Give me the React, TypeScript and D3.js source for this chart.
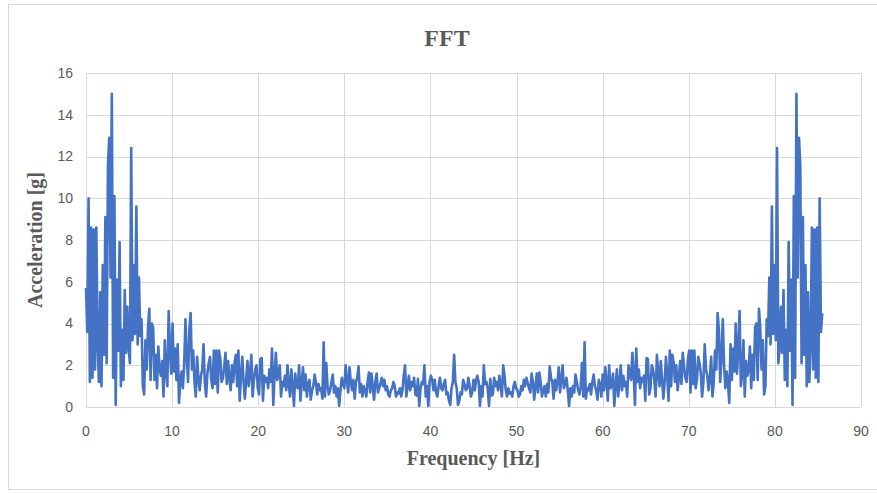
import { useEffect, useRef } from 'react';
import * as d3 from 'd3';

// spectrum sampled every 0.15 Hz, 0 .. 42.75 Hz
const accelLow = [
  5.7, 3.6, 10.0, 1.2, 8.6, 1.4, 8.5, 1.8, 8.6, 3.0,
  1.2, 5.5, 1.0, 6.8, 2.5, 9.1, 2.1, 11.6, 12.9, 6.2,
  15.0, 1.4, 10.1, 0.1, 6.1, 2.7, 7.9, 1.0, 3.7, 1.3,
  5.6, 2.6, 4.8, 2.8, 2.1, 12.4, 3.2, 6.8, 3.5, 9.6,
  3.0, 6.2, 3.4, 4.2, 1.0, 0.6, 3.2, 1.8, 3.8, 4.7,
  1.3, 4.0, 3.8, 1.3, 2.5, 0.9, 2.9, 1.8, 1.5, 2.2,
  0.5, 3.2, 1.6, 1.0, 4.6, 2.8, 1.6, 4.0, 1.7, 2.8,
  1.3, 3.0, 0.2, 1.2, 1.7, 0.9, 2.0, 4.2, 2.4, 1.2,
  3.7, 4.5, 1.8, 2.7, 1.2, 0.5, 2.4, 1.4, 0.8, 1.5,
  1.8, 3.0, 1.2, 0.5, 1.6, 2.1, 2.4, 1.3, 0.9, 2.7,
  1.1, 2.7, 0.7, 2.7, 2.3, 1.2, 1.4, 1.9, 2.6, 1.1,
  2.2, 1.4, 0.8, 2.0, 1.2, 2.1, 2.5, 1.0, 2.7, 0.3,
  1.5, 2.4, 1.2, 0.4, 1.3, 2.2, 1.0, 1.6, 2.5, 0.5,
  1.3, 1.8, 2.0, 0.9, 0.6, 2.3, 2.35, 0.3, 1.5, 1.2,
  1.4, 0.9, 1.8, 1.2, 2.8, 0.1, 1.6, 2.6, 1.3, 1.6,
  2.0, 0.5, 1.2, 1.0, 1.5, 0.8, 2.0, 1.1, 0.5, 1.8,
  1.0, 0.05, 1.6, 1.0, 0.9, 2.0, 0.3, 1.2, 1.9, 0.8,
  1.55, 0.5, 1.1, 1.3, 0.35, 0.8, 1.0, 1.55, 1.2, 0.6,
  1.1, 0.8, 0.9, 0.4, 3.1, 0.5, 2.1, 1.0, 0.6, 0.8,
  1.2, 1.55, 0.7, 1.0, 0.5, 0.9, 0.05, 0.8, 1.4, 1.1,
  0.9, 2.0, 1.3, 0.7, 1.9, 1.2, 0.8, 1.3, 0.4, 1.2,
  1.4, 1.95, 0.7, 1.1, 0.5, 1.0, 0.8, 0.5, 1.2, 1.65,
  0.7, 1.6, 1.0, 0.35, 1.2, 1.6, 0.7, 0.9, 1.15, 1.4,
  1.0, 1.3, 0.8, 1.0, 0.6, 0.5, 0.8, 0.9, 1.2, 1.0,
  0.5, 0.7, 0.65, 0.9, 0.5, 0.8, 1.5, 2.0, 0.5, 1.0,
  1.5, 0.8, 1.2, 1.0, 1.4, 0.6, 0.55, 1.35, 0.05, 0.9,
  1.2, 1.1, 2.0, 0.5, 1.0, 0.05, 1.2, 1.5, 1.3, 0.8,
  1.3, 0.7, 0.5, 1.0, 1.4, 0.9, 0.8, 1.1, 1.3, 0.6,
  0.7, 0.3, 0.1, 0.9, 1.2, 2.5
];

// 42.9 .. 85.5 Hz (mirror side of the spectrum)
const accelHigh = [
  1.2, 0.9, 0.1, 0.3, 0.7,
  0.6, 1.3, 1.1, 0.8, 0.9, 1.4, 1.0, 0.5, 0.7, 1.3,
  0.8, 1.3, 1.5, 1.2, 0.05, 1.0, 0.5, 2.0, 1.1, 1.2,
  0.9, 0.05, 1.35, 0.55, 0.6, 1.4, 1.0, 1.2, 0.8, 1.5,
  1.0, 0.5, 2.0, 1.5, 0.8, 0.5, 0.9, 0.65, 0.7, 0.5,
  1.0, 1.2, 0.9, 0.8, 0.5, 0.6, 1.0, 0.8, 1.3, 1.0,
  1.4, 1.15, 0.9, 0.7, 1.6, 1.2, 0.35, 1.0, 1.6, 0.7,
  1.65, 1.2, 0.5, 0.8, 1.0, 0.5, 1.1, 0.7, 1.95, 1.4,
  1.2, 0.4, 1.3, 0.8, 1.2, 1.9, 0.7, 1.3, 2.0, 0.9,
  1.1, 1.4, 0.8, 0.05, 0.9, 0.5, 1.0, 0.7, 1.55, 1.2,
  0.8, 0.6, 1.0, 2.1, 0.5, 3.1, 0.4, 0.9, 0.8, 1.1,
  0.6, 1.2, 1.55, 1.0, 0.8, 0.35, 1.3, 1.1, 0.5, 1.55,
  0.8, 1.9, 1.2, 0.3, 2.0, 0.9, 1.0, 1.6, 0.05, 1.0,
  1.8, 0.5, 1.1, 2.0, 0.8, 1.5, 1.0, 1.2, 0.5, 2.0,
  1.6, 1.3, 2.6, 1.6, 0.1, 2.8, 1.2, 1.8, 0.9, 1.4,
  1.2, 1.5, 0.3, 2.35, 2.3, 0.6, 0.9, 2.0, 1.8, 1.3,
  0.5, 2.5, 1.6, 1.0, 2.2, 1.3, 0.4, 1.2, 2.4, 1.5,
  0.3, 2.7, 1.0, 2.5, 2.1, 1.2, 2.0, 0.8, 1.4, 2.2,
  1.1, 2.6, 1.9, 1.4, 1.2, 2.3, 2.7, 0.7, 2.7, 1.1,
  2.7, 0.9, 1.3, 2.4, 2.1, 1.6, 0.5, 1.2, 3.0, 1.8,
  1.5, 0.8, 1.4, 2.4, 0.5, 1.2, 2.7, 1.8, 4.5, 3.7,
  1.2, 2.4, 4.2, 2.0, 0.9, 1.7, 1.2, 0.2, 3.0, 1.3,
  2.8, 1.7, 4.0, 1.6, 2.8, 4.6, 1.0, 1.6, 3.2, 0.5,
  2.2, 1.5, 1.8, 2.9, 0.9, 2.5, 1.3, 3.8, 4.0, 1.3,
  4.7, 3.8, 1.8, 3.2, 0.6, 1.0, 4.2, 3.4, 6.2, 3.0,
  9.6, 3.5, 6.8, 3.2, 12.4, 2.1, 2.8, 4.8, 2.6, 5.6,
  1.3, 3.7, 1.0, 7.9, 2.7, 6.1, 0.1, 10.1, 1.4, 15.0,
  6.2, 12.9, 11.6, 2.1, 9.1, 2.5, 6.8, 1.0, 5.5, 1.2,
  3.0, 8.6, 1.8, 8.5, 1.4, 8.6, 1.2, 10.0, 3.6, 4.5
];

const freqStep = 0.15;
const xTicks = [0, 10, 20, 30, 40, 50, 60, 70, 80, 90];
const yTicks = [0, 2, 4, 6, 8, 10, 12, 14, 16];

export default function App() {
  const svgRef = useRef<SVGSVGElement>(null);

  useEffect(() => {
    const svg = d3.select(svgRef.current);
    svg.selectAll('*').remove();

    const width = 877;
    const height = 493;
    const margin = { top: 73, right: 16, bottom: 86, left: 86 };
    const innerWidth = width - margin.left - margin.right;
    const innerHeight = height - margin.top - margin.bottom;

    const values = [...accelLow, ...accelHigh];
    const points = values.map((v, i) => ({ f: i * freqStep, a: v }));

    svg.attr('width', width).attr('height', height);

    svg.append('rect')
      .attr('x', 8.5)
      .attr('y', 4.5)
      .attr('width', 880)
      .attr('height', 485)
      .attr('fill', '#fff')
      .attr('stroke', '#d9d9d9');

    const x = d3.scaleLinear().domain([0, 90]).range([0, innerWidth]);
    const y = d3.scaleLinear().domain([0, 16]).range([innerHeight, 0]);

    const g = svg.append('g')
      .attr('transform', `translate(${margin.left},${margin.top})`);

    // grid
    g.append('g')
      .selectAll('line')
      .data(yTicks)
      .join('line')
      .attr('x1', 0)
      .attr('x2', innerWidth)
      .attr('y1', d => Math.round(y(d)) + 0.5)
      .attr('y2', d => Math.round(y(d)) + 0.5)
      .attr('stroke', '#d9d9d9');

    g.append('g')
      .selectAll('line')
      .data(xTicks)
      .join('line')
      .attr('x1', d => Math.round(x(d)) + 0.5)
      .attr('x2', d => Math.round(x(d)) + 0.5)
      .attr('y1', 0)
      .attr('y2', innerHeight)
      .attr('stroke', '#d9d9d9');

    const tickFont = '"Liberation Sans Narrow", "Liberation Sans", Arial, sans-serif';

    g.append('g')
      .selectAll('text')
      .data(yTicks)
      .join('text')
      .attr('x', -13)
      .attr('y', d => y(d))
      .attr('dy', '0.35em')
      .attr('text-anchor', 'end')
      .style('font-family', tickFont)
      .style('font-size', '14px')
      .attr('fill', '#595959')
      .text(d => d);

    g.append('g')
      .selectAll('text')
      .data(xTicks)
      .join('text')
      .attr('x', d => x(d))
      .attr('y', innerHeight + 29)
      .attr('text-anchor', 'middle')
      .style('font-family', tickFont)
      .style('font-size', '14px')
      .attr('fill', '#595959')
      .text(d => d);

    const line = d3.line<{ f: number; a: number }>()
      .x(d => x(d.f))
      .y(d => y(d.a));

    g.append('path')
      .datum(points)
      .attr('d', line)
      .attr('fill', 'none')
      .attr('stroke', '#4472C4')
      .attr('stroke-width', 2.6)
      .attr('stroke-linejoin', 'round');

    const serif = '"Liberation Serif", "Times New Roman", serif';

    svg.append('text')
      .attr('x', 447)
      .attr('y', 46)
      .attr('text-anchor', 'middle')
      .style('font-family', serif)
      .style('font-size', '24px')
      .style('font-weight', 'bold')
      .attr('fill', '#595959')
      .text('FFT');

    svg.append('text')
      .attr('x', margin.left + innerWidth / 2)
      .attr('y', 465)
      .attr('text-anchor', 'middle')
      .style('font-family', serif)
      .style('font-size', '20px')
      .style('font-weight', 'bold')
      .attr('fill', '#595959')
      .text('Frequency [Hz]');

    svg.append('text')
      .attr('transform', `translate(42,${margin.top + innerHeight / 2}) rotate(-90)`)
      .attr('text-anchor', 'middle')
      .style('font-family', serif)
      .style('font-size', '20px')
      .style('font-weight', 'bold')
      .attr('fill', '#595959')
      .text('Acceleration [g]');
  }, []);

  return <svg ref={svgRef} style={{ position: 'absolute', left: 0, top: 0 }}></svg>;
}
